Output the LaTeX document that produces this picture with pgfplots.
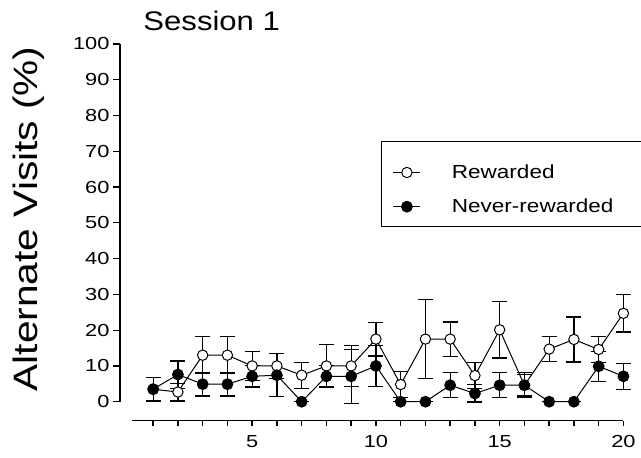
\documentclass[border=0pt]{standalone}
\usepackage{fontspec}
\setmainfont{Liberation Sans}
\usepackage{graphicx}
\usepackage{pgfplots}
\pgfplotsset{compat=1.18}
\usepackage{pgfplotstable}
\pgfplotstableread{
x y e
1 3.5 3.2
2 2.7 2.5
3 13.0 5.2
4 13.0 5.2
5 10.0 4.0
6 10.0 3.5
7 7.4 3.6
8 10.0 6.0
9 10.0 5.7
10 17.5 4.7
11 4.8 3.6
12 17.5 11.0
13 17.5 4.8
14 7.3 3.6
15 20.1 7.9
16 4.6 3.0
17 14.7 3.5
18 17.4 6.3
19 14.6 3.6
20 24.7 5.2
}\rewarded
\pgfplotstableread{
x y e
1 3.5 3.3
2 7.6 3.8
3 4.9 3.3
4 4.9 3.3
5 7.1 3.0
6 7.4 6.0
7 0 0
8 7.1 3.0
9 7.1 7.6
10 10.0 5.7
11 0 0
12 0 0
13 4.6 3.5
14 2.3 2.4
15 4.6 3.5
16 4.6 3.5
17 0 0
18 0 0
19 9.9 4.2
20 7.1 3.6
}\never
\begin{document}
\begin{tikzpicture}
\begin{axis}[
  name=main,
  at={(0,0)}, anchor=south west,
  x=24.75bp, y=3.577bp,
  xmin=-0.34, xmax=20.2, ymin=0, ymax=100,
  axis y line*=left, axis x line=none,
  clip=false,
  ytick={0,10,...,100},
  tick align=outside,
  major tick length=7bp,
  axis line style={line width=1.5bp},
  every tick/.style={line width=1.3bp, black},
  yticklabel={\scalebox{1.25}[1]{\pgfmathprintnumber{\tick}}},
  /pgf/number format/assume math mode=true,
  yticklabel style={font=\fontsize{17.5}{20}\selectfont},
  ylabel={\scalebox{1.2}[1]{Alternate Visits (\%)}},
  ylabel style={at={(axis description cs:-0.179,0.511)}, anchor=center, font=\fontsize{34}{38}\selectfont},
  title={\scalebox{1.155}[1]{Session 1}},
  title style={at={(axis description cs:0.0458,1)}, anchor=base west, inner sep=0pt, yshift=7.5bp, font=\fontsize{27}{30}\selectfont},
  legend style={at={(axis description cs:0.5148,0.7288)}, anchor=north west, yshift=-7bp, draw=none, fill=none,
    font=\fontsize{19}{22}\selectfont, row sep=15bp, inner ysep=14.7bp, inner xsep=11bp},
  legend cell align=left,
  legend image code/.code={\draw[mark repeat=2,mark phase=2,line width=1bp] plot coordinates {(0bp,0bp)(13.5bp,0bp)(27bp,0bp)};},
]
\draw[line width=0.8bp] (axis description cs:0.5148,0.7288) rectangle (axis description cs:1.3,0.4912);
\addplot[black, line width=1bp, mark=*, mark size=5.2bp, mark options={fill=white, line width=1bp},
  error bars/.cd, y dir=both, y explicit, error bar style={line width=1.2bp},
  error mark options={rotate=90, mark size=7.5bp, line width=1.2bp}]
  table[x=x, y=y, y error=e]{\rewarded};
\addlegendentry{\hspace*{29bp}\scalebox{1.19}[1]{Rewarded}}
\addplot[black, line width=1bp, mark=*, mark size=5.4bp, mark options={fill=black},
  error bars/.cd, y dir=both, y explicit, error bar style={line width=1.2bp},
  error mark options={rotate=90, mark size=7.5bp, line width=1.2bp}]
  table[x=x, y=y, y error=e]{\never};
\addlegendentry{\hspace*{29bp}\scalebox{1.19}[1]{Never-rewarded}}
\end{axis}
\begin{axis}[
  at={(11.6bp,-19bp)}, anchor=south west,
  x=24.75bp, y=1bp,
  xmin=0.13, xmax=20, ymin=0, ymax=1,
  axis x line*=bottom, axis y line=none,
  xtick={5,10,15,20}, minor xtick={1,...,20},
  ytick=\empty,
  tick align=outside,
  major tick length=5bp, minor tick length=5bp,
  axis line style={line width=1.5bp},
  every tick/.style={line width=1.3bp, black},
  every minor tick/.style={line width=1.3bp, black},
  xticklabel={\scalebox{1.25}[1]{\pgfmathprintnumber{\tick}}},
  /pgf/number format/assume math mode=true,
  xticklabel style={font=\fontsize{17.5}{20}\selectfont, yshift=-6bp},
]
\end{axis}
\pgfresetboundingbox
\path ([shift={(-120bp,-56.3bp)}]main.south west) rectangle ([shift={(521bp,401.7bp)}]main.south west);
\end{tikzpicture}
\end{document}
